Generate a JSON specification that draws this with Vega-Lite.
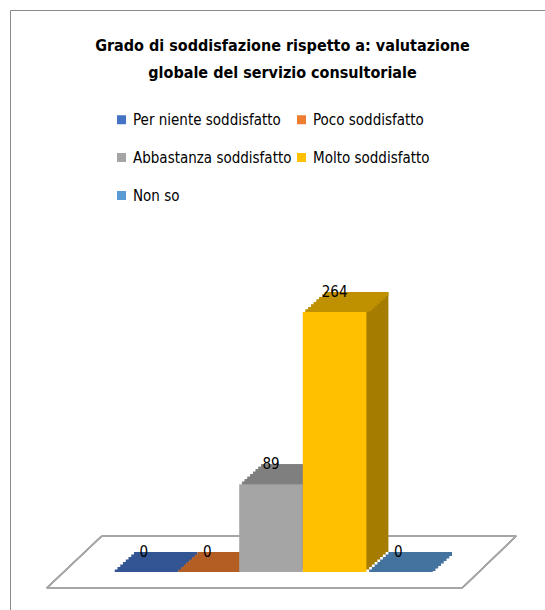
{
  "$schema": "https://vega.github.io/schema/vega-lite/v6.json",
  "width": 545,
  "height": 610,
  "autosize": {"type": "none"},
  "padding": {"left": 10, "top": 10, "right": 0, "bottom": 0},
  "background": "white",
  "config": {
    "view": {"stroke": "#8a8a8a", "strokeWidth": 1, "fill": "white"},
    "font": "'DejaVu Sans Condensed', Lato, sans-serif"
  },
  "title": {
    "text": ["Grado di soddisfazione rispetto a: valutazione", "globale del servizio consultoriale"],
    "font": "'DejaVu Sans Condensed', Lato, sans-serif",
    "fontSize": 16,
    "fontWeight": "bold",
    "color": "#000000",
    "anchor": "middle",
    "offset": -71,
    "lineHeight": 27
  },
  "data": {
    "values": [
      {"giudizio": "Per niente soddisfatto", "n": 0},
      {"giudizio": "Poco soddisfatto", "n": 0},
      {"giudizio": "Abbastanza soddisfatto", "n": 89},
      {"giudizio": "Molto soddisfatto", "n": 264},
      {"giudizio": "Non so", "n": 0}
    ]
  },
  "encoding": {
    "x": {"field": "giudizio", "type": "nominal", "sort": null, "axis": null,
          "scale": {"domain": ["Per niente soddisfatto", "Poco soddisfatto", "Abbastanza soddisfatto", "Molto soddisfatto", "Non so"],
                    "range": [102, 420], "paddingInner": 0, "paddingOuter": 0}},
    "y": {"field": "n", "type": "quantitative", "axis": null,
          "scale": {"domain": [0, 264], "range": [562, 302], "nice": false}}
  },
  "layer": [
    {
      "layer": [
        {"mark": {"type": "rule", "color": "#a6a6a6", "strokeWidth": 1.5, "xOffset": -97, "x2Offset": 64, "yOffset": 16, "y2Offset": 16},
         "encoding": {"x": {"datum": "Per niente soddisfatto"}, "x2": {"datum": "Non so"}, "y": {"datum": 0}, "y2": {"datum": 0}}},
        {"mark": {"type": "rule", "color": "#a6a6a6", "strokeWidth": 1.5, "xOffset": -42, "x2Offset": 118, "yOffset": -36, "y2Offset": -36},
         "encoding": {"x": {"datum": "Per niente soddisfatto"}, "x2": {"datum": "Non so"}, "y": {"datum": 0}, "y2": {"datum": 0}}},
        {"mark": {"type": "rule", "color": "#a6a6a6", "strokeWidth": 1.5, "xOffset": -97, "x2Offset": -42, "yOffset": 16, "y2Offset": -36},
         "encoding": {"x": {"datum": "Per niente soddisfatto"}, "x2": {"datum": "Per niente soddisfatto"}, "y": {"datum": 0}, "y2": {"datum": 0}}},
        {"mark": {"type": "rule", "color": "#a6a6a6", "strokeWidth": 1.5, "xOffset": 64, "x2Offset": 118, "yOffset": 16, "y2Offset": -36},
         "encoding": {"x": {"datum": "Non so"}, "x2": {"datum": "Non so"}, "y": {"datum": 0}, "y2": {"datum": 0}}}
      ]
    },
    {
      "encoding": {
        "y2": {"datum": 0},
        "color": {"field": "giudizio", "type": "nominal", "legend": null,
                  "scale": {"domain": ["Per niente soddisfatto", "Poco soddisfatto", "Abbastanza soddisfatto", "Molto soddisfatto", "Non so"],
                            "range": ["#2a4a82", "#a0521c", "#6f6f6f", "#a67c00", "#3b6690"]}}
      },
      "layer": [
        {"mark": {"type": "bar", "xOffset": 22, "yOffset": -20, "y2Offset": -20}},
        {"mark": {"type": "bar", "xOffset": 19.25, "yOffset": -17.5, "y2Offset": -17.5}},
        {"mark": {"type": "bar", "xOffset": 16.5, "yOffset": -15, "y2Offset": -15}},
        {"mark": {"type": "bar", "xOffset": 13.75, "yOffset": -12.5, "y2Offset": -12.5}},
        {"mark": {"type": "bar", "xOffset": 11, "yOffset": -10, "y2Offset": -10}},
        {"mark": {"type": "bar", "xOffset": 8.25, "yOffset": -7.5, "y2Offset": -7.5}},
        {"mark": {"type": "bar", "xOffset": 5.5, "yOffset": -5, "y2Offset": -5}},
        {"mark": {"type": "bar", "xOffset": 2.75, "yOffset": -2.5, "y2Offset": -2.5}}
      ]
    },
    {
      "encoding": {
        "y2": {"field": "n"},
        "color": {"field": "giudizio", "type": "nominal", "legend": null,
                  "scale": {"domain": ["Per niente soddisfatto", "Poco soddisfatto", "Abbastanza soddisfatto", "Molto soddisfatto", "Non so"],
                            "range": ["#335593", "#b45e24", "#7f7f7f", "#bf9000", "#44739f"]}}
      },
      "layer": [
        {"mark": {"type": "bar", "xOffset": 22, "yOffset": -20, "y2Offset": -16}},
        {"mark": {"type": "bar", "xOffset": 19.25, "yOffset": -17.5, "y2Offset": -13.5}},
        {"mark": {"type": "bar", "xOffset": 16.5, "yOffset": -15, "y2Offset": -11}},
        {"mark": {"type": "bar", "xOffset": 13.75, "yOffset": -12.5, "y2Offset": -8.5}},
        {"mark": {"type": "bar", "xOffset": 11, "yOffset": -10, "y2Offset": -6}},
        {"mark": {"type": "bar", "xOffset": 8.25, "yOffset": -7.5, "y2Offset": -3.5}},
        {"mark": {"type": "bar", "xOffset": 5.5, "yOffset": -5, "y2Offset": -1}},
        {"mark": {"type": "bar", "xOffset": 2.75, "yOffset": -2.5, "y2Offset": 0}}
      ]
    },
    {
      "mark": {"type": "bar"},
      "encoding": {
        "color": {"field": "giudizio", "type": "nominal", "sort": null,
                  "scale": {"domain": ["Per niente soddisfatto", "Poco soddisfatto", "Abbastanza soddisfatto", "Molto soddisfatto", "Non so"],
                            "range": ["#4472c4", "#ed7d31", "#a5a5a5", "#ffc000", "#5b9bd5"]},
                  "legend": {"orient": "none", "legendX": 104, "legendY": 102, "columns": 2, "direction": "horizontal", "title": null,
                             "symbolType": "square", "symbolSize": 81, "symbolStrokeWidth": 0,
                             "labelFont": "'DejaVu Sans Condensed', Lato, sans-serif", "labelFontSize": 15, "labelColor": "#000000",
                             "labelOffset": 4, "rowPadding": 22, "columnPadding": 2, "padding": 0, "labelLimit": 300}}
      }
    },
    {
      "mark": {"type": "text", "dy": -20, "baseline": "middle", "align": "center", "fontSize": 15, "font": "'DejaVu Sans Condensed', Lato, sans-serif", "color": "#000000"},
      "encoding": {"text": {"field": "n", "type": "quantitative"}}
    }
  ],
  "resolve": {"scale": {"color": "independent"}}
}
